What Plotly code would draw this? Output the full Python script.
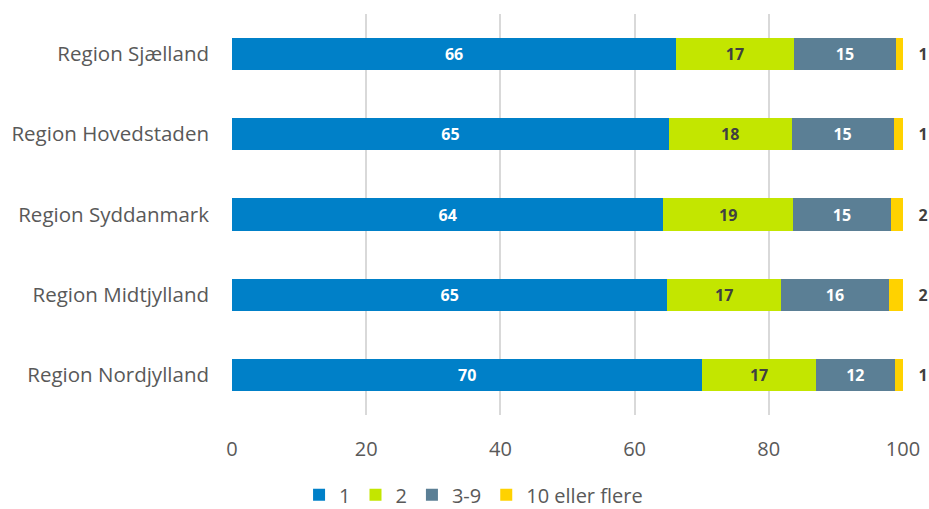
import plotly.graph_objects as go

regions = ["Region Nordjylland", "Region Midtjylland", "Region Syddanmark",
           "Region Hovedstaden", "Region Sjælland"]
series_names = ["1", "2", "3-9", "10 eller flere"]
v1 = [70.1, 64.9, 64.3, 65.1, 66.2]
v2 = [16.9, 16.9, 19.3, 18.3, 17.5]
v3 = [11.8, 16.1, 14.6, 15.2, 15.3]
v4 = [1.2, 2.1, 1.8, 1.4, 1.0]
labels1 = ["70", "65", "64", "65", "66"]
labels2 = ["17", "17", "19", "18", "17"]
labels3 = ["12", "16", "15", "15", "15"]
labels4 = ["1", "2", "2", "1", "1"]

colors = ["#0080C8", "#C3E600", "#5B7F95", "#FFD200"]
text_colors = ["white", "#404040", "white", "#404040"]
values = [v1, v2, v3, v4]
labels = [labels1, labels2, labels3, labels4]

fig = go.Figure()
for i in range(4):
    fig.add_trace(go.Bar(
        y=regions, x=values[i], name=series_names[i], orientation="h",
        marker=dict(color=colors[i], line=dict(width=0)),
        text=labels[i],
        texttemplate="%{text}" if i < 3 else "\u00a0\u00a0\u00a0%{text}",
        textposition="inside" if i < 3 else "outside",
        insidetextanchor="middle",
        constraintext="none",
        textfont=dict(family="Open Sans", size=16, color=text_colors[i], weight="bold"),
        cliponaxis=False,
        hoverinfo="skip",
    ))

fig.update_layout(
    barmode="stack",
    bargap=0.6,
    width=929, height=509,
    margin=dict(l=232, r=26, t=14, b=94, autoexpand=False),
    paper_bgcolor="white", plot_bgcolor="white",
    font=dict(family="Open Sans", color="#595959"),
    uniformtext=dict(mode=False),
    legend=dict(orientation="h", x=0.36, xanchor="center",
                yref="container", y=0.028, yanchor="middle",
                font=dict(size=20, color="#595959"), traceorder="normal",
                itemwidth=30),
    showlegend=True,
)
fig.update_xaxes(range=[0, 100], dtick=20, showgrid=True, gridcolor="#D9D9D9", gridwidth=1.5,
                 zeroline=False, showline=False, tickfont=dict(size=20, color="#595959"),
                 ticklabelstandoff=20, automargin=False, fixedrange=True)
fig.update_yaxes(showgrid=False, zeroline=False, showline=False,
                 tickfont=dict(size=20.5, color="#595959"), ticklabelstandoff=22,
                 automargin=False,
                 categoryorder="array", categoryarray=regions, fixedrange=True)

fig.write_html("out.html", post_script="document.body.style.margin='0';",
               config={"displayModeBar": False})
